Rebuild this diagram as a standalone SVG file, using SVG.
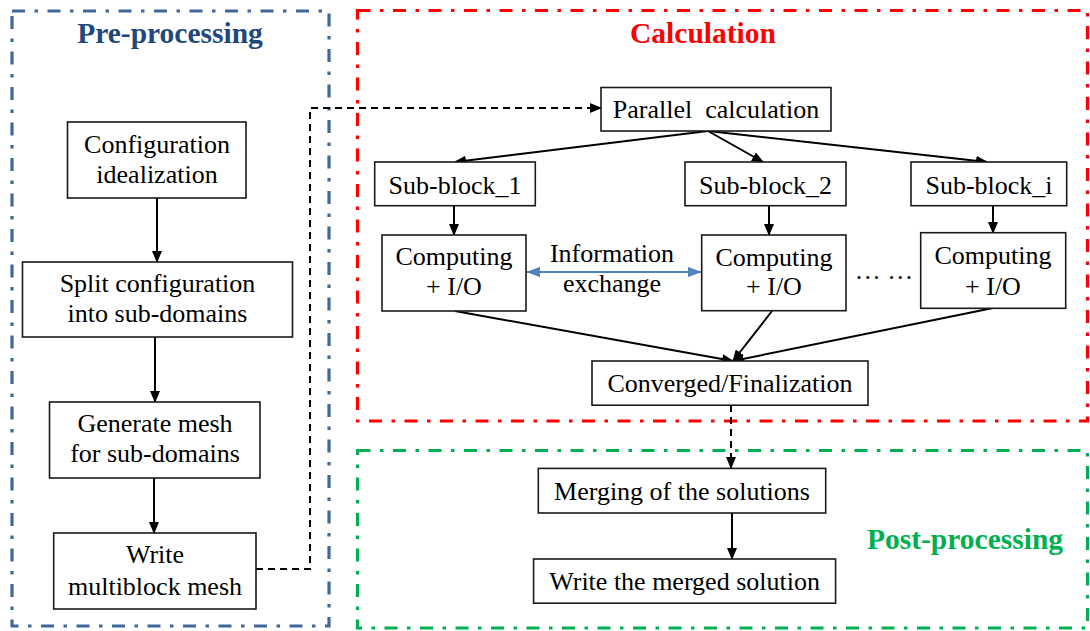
<svg xmlns="http://www.w3.org/2000/svg" width="1090" height="631" viewBox="0 0 1090 631">
  <defs>
    <style>
      .frame { fill: none; stroke-width: 3.2; stroke-dasharray: 13 9.5 3.5 9.5; }
      .pre { stroke: #41679A; }
      .calc { stroke: #FF0000; }
      .post { stroke: #00B050; }
      .title { font-family: "Liberation Serif", "Times New Roman", serif; font-size: 29.5px; font-weight: bold; text-anchor: middle; }
      .box { fill: #FFFFFF; stroke: #1A1A1A; stroke-width: 1.6; }
      .lbl { font-family: "Liberation Serif", "Times New Roman", serif; font-size: 26px; fill: #000000; text-anchor: middle; }
      .edge { fill: none; stroke: #000000; stroke-width: 2; marker-end: url(#head); }
      .dash { fill: none; stroke: #000000; stroke-width: 2; stroke-dasharray: 7 5; }
      .xchg { fill: none; stroke: #4F81BD; stroke-width: 2.2; marker-start: url(#bhead-s); marker-end: url(#bhead); }
    </style>
    <marker id="head" markerUnits="userSpaceOnUse" markerWidth="12" markerHeight="10" refX="11" refY="5" orient="auto">
      <path d="M0,0 L12,5 L0,10 Z" fill="#000000"/>
    </marker>
    <marker id="bhead" markerUnits="userSpaceOnUse" markerWidth="14" markerHeight="10" refX="13" refY="5" orient="auto">
      <path d="M0,0 L14,5 L0,10 Z" fill="#4F81BD"/>
    </marker>
    <marker id="bhead-s" markerUnits="userSpaceOnUse" markerWidth="14" markerHeight="10" refX="1" refY="5" orient="auto">
      <path d="M14,0 L0,5 L14,10 Z" fill="#4F81BD"/>
    </marker>
  </defs>

  <rect width="1090" height="631" fill="#FFFFFF"/>

  <!-- stage frames -->
  <g id="stages">
    <rect class="frame pre" x="12" y="11" width="317" height="615"/>
    <rect class="frame calc" x="357.5" y="10.5" width="730" height="410.5"/>
    <rect class="frame post" x="357.5" y="450.5" width="730" height="177.5"/>
    <text class="title" x="170" y="43" fill="#1F497D">Pre-processing</text>
    <text class="title" x="703" y="43" fill="#FF0000">Calculation</text>
    <text class="title" x="965" y="549" fill="#00B050">Post-processing</text>
  </g>

  <!-- connectors -->
  <g id="connectors">
    <line class="edge" x1="157" y1="198" x2="157" y2="262"/>
    <line class="edge" x1="155" y1="337" x2="155" y2="402"/>
    <line class="edge" x1="154" y1="478" x2="154" y2="533"/>
    <polyline class="dash" points="256,569 310,569 310,108 590,108"/>
    <line class="edge" x1="589" y1="108" x2="601" y2="108"/>
    <line class="edge" x1="708" y1="131" x2="455" y2="162"/>
    <line class="edge" x1="708" y1="131" x2="763" y2="162"/>
    <line class="edge" x1="708" y1="131" x2="987" y2="162"/>
    <line class="edge" x1="454" y1="206" x2="454" y2="235"/>
    <line class="edge" x1="769" y1="206" x2="769" y2="235"/>
    <line class="edge" x1="993" y1="206" x2="993" y2="233"/>
    <line class="xchg" x1="527" y1="272" x2="701" y2="272"/>
    <line class="edge" x1="455" y1="311" x2="733" y2="361"/>
    <line class="edge" x1="772" y1="311" x2="733" y2="361"/>
    <line class="edge" x1="993" y1="308" x2="733" y2="361"/>
    <line class="dash" x1="731" y1="405" x2="731" y2="458"/>
    <line class="edge" x1="731" y1="456" x2="731" y2="468"/>
    <line class="edge" x1="732" y1="513" x2="732" y2="559"/>
  </g>

  <!-- pre-processing steps -->
  <g id="config-idealization">
    <rect class="box" x="67.5" y="122" width="178.5" height="76"/>
    <text class="lbl" x="157" y="153">Configuration</text>
    <text class="lbl" x="157" y="183">idealization</text>
  </g>
  <g id="split-domains">
    <rect class="box" x="22.5" y="262" width="270" height="75"/>
    <text class="lbl" x="157.5" y="292">Split configuration</text>
    <text class="lbl" x="157.5" y="322">into sub-domains</text>
  </g>
  <g id="generate-mesh">
    <rect class="box" x="49.5" y="402" width="210.5" height="76"/>
    <text class="lbl" x="155" y="431.5">Generate mesh</text>
    <text class="lbl" x="155" y="462">for sub-domains</text>
  </g>
  <g id="write-mesh">
    <rect class="box" x="53.7" y="533" width="202.3" height="76"/>
    <text class="lbl" x="155" y="563">Write</text>
    <text class="lbl" x="155" y="595">multiblock mesh</text>
  </g>

  <!-- calculation steps -->
  <g id="parallel-calc">
    <rect class="box" x="601" y="87.5" width="230" height="43.5"/>
    <text class="lbl" x="716" y="118" xml:space="preserve">Parallel  calculation</text>
  </g>
  <g id="sub-block-1">
    <rect class="box" x="374.7" y="162" width="160.6" height="43.7"/>
    <text class="lbl" x="455" y="193.5">Sub-block_1</text>
  </g>
  <g id="sub-block-2">
    <rect class="box" x="685" y="162" width="161" height="43.7"/>
    <text class="lbl" x="765.5" y="193.5">Sub-block_2</text>
  </g>
  <g id="sub-block-i">
    <rect class="box" x="911" y="162" width="155.7" height="43.7"/>
    <text class="lbl" x="989" y="193.5">Sub-block_i</text>
  </g>
  <g id="computing-1">
    <rect class="box" x="382" y="235" width="144" height="76"/>
    <text class="lbl" x="454" y="265">Computing</text>
    <text class="lbl" x="454" y="295">+ I/O</text>
  </g>
  <g id="info-exchange">
    <text class="lbl" x="612" y="262">Information</text>
    <text class="lbl" x="612" y="292">exchange</text>
  </g>
  <g id="computing-2">
    <rect class="box" x="701.7" y="235" width="144.3" height="75.7"/>
    <text class="lbl" x="774" y="265.5">Computing</text>
    <text class="lbl" x="774" y="295">+ I/O</text>
  </g>
  <g id="ellipsis">
    <text class="lbl" x="884" y="279" xml:space="preserve">… …</text>
  </g>
  <g id="computing-i">
    <rect class="box" x="920.7" y="232.7" width="145" height="75.6"/>
    <text class="lbl" x="993" y="263.5">Computing</text>
    <text class="lbl" x="993" y="295">+ I/O</text>
  </g>
  <g id="converged">
    <rect class="box" x="592" y="361" width="276" height="44.2"/>
    <text class="lbl" x="730" y="392">Converged/Finalization</text>
  </g>

  <!-- post-processing steps -->
  <g id="merging">
    <rect class="box" x="538.3" y="468.4" width="287.4" height="44.6"/>
    <text class="lbl" x="682" y="500">Merging of the solutions</text>
  </g>
  <g id="write-solution">
    <rect class="box" x="533.6" y="559" width="302" height="44.2"/>
    <text class="lbl" x="684.6" y="589.5">Write the merged solution</text>
  </g>
</svg>
